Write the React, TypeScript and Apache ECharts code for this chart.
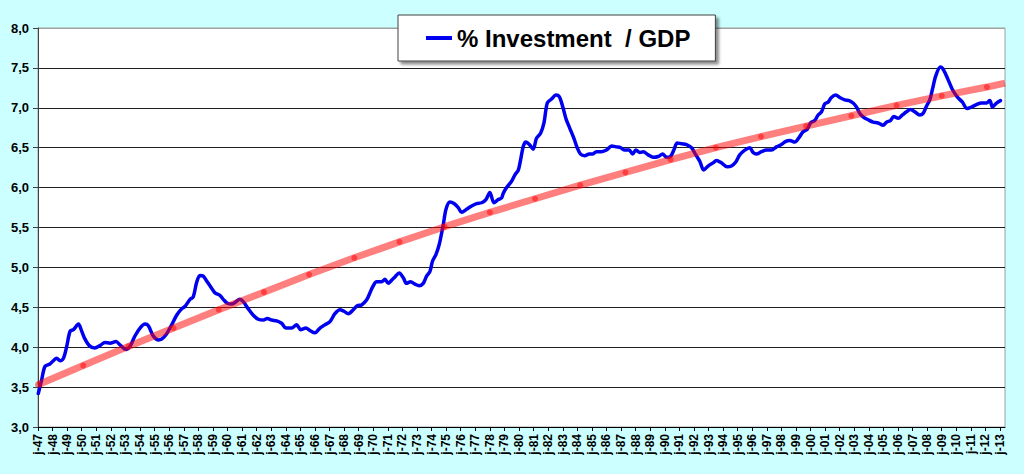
import React, { useEffect, useRef } from 'react';
import * as echarts from 'echarts';

const LEGEND_NAME = '% Investment  / GDP';

// Blue series: [decimal year] and [% investment / GDP]
const investYears = [
  1947.02, 1947.25, 1947.48, 1947.82, 1948.05, 1948.28, 1948.51, 1948.74, 1948.97, 1949.2,
  1949.43, 1949.77, 1950.0, 1950.2, 1950.52, 1950.9, 1951.25, 1951.6, 1951.94, 1952.35,
  1952.62, 1953.04, 1953.31, 1953.65, 1954.0, 1954.34, 1954.57, 1954.91, 1955.26, 1955.48,
  1955.83, 1956.17, 1956.51, 1956.85, 1957.08, 1957.43, 1957.65, 1957.88, 1958.11, 1958.34,
  1958.57, 1958.91, 1959.14, 1959.48, 1959.71, 1959.99, 1960.28, 1960.51, 1960.85, 1961.08,
  1961.43, 1961.77, 1962.11, 1962.46, 1962.73, 1963.03, 1963.37, 1963.71, 1964.01, 1964.4,
  1964.74, 1965.02, 1965.38, 1965.65, 1966.0, 1966.34, 1966.68, 1967.03, 1967.37, 1967.71,
  1967.99, 1968.29, 1968.63, 1968.9, 1969.2, 1969.54, 1969.77, 1970.0, 1970.23, 1970.57,
  1970.8, 1971.03, 1971.26, 1971.49, 1971.78, 1972.06, 1972.28, 1972.56, 1972.86, 1973.15,
  1973.43, 1973.66, 1973.89, 1974.07, 1974.3, 1974.53, 1974.69, 1974.81, 1974.99, 1975.26,
  1975.54, 1975.83, 1976.06, 1976.41, 1976.75, 1977.09, 1977.43, 1977.73, 1978.0, 1978.28,
  1978.57, 1978.8, 1978.92, 1979.15, 1979.49, 1979.72, 1979.95, 1980.11, 1980.3, 1980.47,
  1980.75, 1980.97, 1981.2, 1981.48, 1981.71, 1981.94, 1982.23, 1982.53, 1982.76, 1982.99,
  1983.21, 1983.49, 1983.76, 1983.99, 1984.22, 1984.51, 1984.81, 1985.04, 1985.31, 1985.66,
  1986.0, 1986.35, 1986.69, 1986.96, 1987.26, 1987.56, 1987.79, 1988.02, 1988.29, 1988.52,
  1988.86, 1989.21, 1989.55, 1989.85, 1990.12, 1990.39, 1990.62, 1990.85, 1991.15, 1991.49,
  1991.83, 1992.13, 1992.4, 1992.67, 1992.97, 1993.31, 1993.54, 1993.88, 1994.27, 1994.57,
  1994.87, 1995.14, 1995.49, 1995.83, 1996.06, 1996.29, 1996.63, 1996.98, 1997.32, 1997.66,
  1998.01, 1998.3, 1998.58, 1998.92, 1999.22, 1999.49, 1999.77, 2000.0, 2000.29, 2000.52,
  2000.75, 2000.98, 2001.2, 2001.43, 2001.73, 2002.0, 2002.35, 2002.65, 2002.92, 2003.15,
  2003.38, 2003.65, 2003.95, 2004.29, 2004.63, 2004.98, 2005.21, 2005.48, 2005.71, 2006.01,
  2006.3, 2006.58, 2006.85, 2007.15, 2007.49, 2007.72, 2007.95, 2008.18, 2008.36, 2008.59,
  2008.91, 2009.14, 2009.44, 2009.73, 2010.05, 2010.42, 2010.74, 2011.04, 2011.38, 2011.72,
  2012.07, 2012.3, 2012.48, 2012.76, 2013.03,
];
const investValues = [
  3.42, 3.59, 3.76, 3.79, 3.83, 3.86, 3.83, 3.86, 4.01, 4.2,
  4.22, 4.29, 4.2, 4.11, 4.02, 3.99, 4.02, 4.06, 4.05, 4.07,
  4.03, 3.97, 4.01, 4.14, 4.24, 4.29, 4.27, 4.14, 4.09, 4.1,
  4.17, 4.28, 4.4, 4.48, 4.51, 4.6, 4.63, 4.81, 4.9, 4.89,
  4.83, 4.74, 4.68, 4.65, 4.6, 4.55, 4.54, 4.56, 4.6, 4.57,
  4.48, 4.4, 4.35, 4.34, 4.36, 4.34, 4.33, 4.3, 4.24, 4.24,
  4.28, 4.22, 4.24, 4.21, 4.18, 4.24, 4.28, 4.32, 4.42, 4.47,
  4.45, 4.42, 4.47, 4.52, 4.53, 4.59, 4.68, 4.77, 4.82, 4.82,
  4.85, 4.8, 4.84, 4.88, 4.93, 4.87, 4.8, 4.82, 4.79, 4.77,
  4.8, 4.89, 4.95, 5.08, 5.16, 5.29, 5.43, 5.54, 5.73, 5.82,
  5.8, 5.75, 5.69, 5.73, 5.77, 5.8, 5.81, 5.85, 5.94, 5.81,
  5.85, 5.87, 5.93, 6.0, 6.08, 6.16, 6.22, 6.35, 6.52, 6.57,
  6.53, 6.48, 6.62, 6.68, 6.81, 7.06, 7.11, 7.16, 7.14, 7.02,
  6.87, 6.74, 6.62, 6.5, 6.42, 6.4, 6.42, 6.42, 6.45, 6.45,
  6.47, 6.52, 6.51, 6.5, 6.47, 6.47, 6.42, 6.47, 6.44, 6.45,
  6.41, 6.38, 6.39, 6.42, 6.38, 6.39, 6.47, 6.56, 6.55, 6.54,
  6.5, 6.41, 6.33, 6.22, 6.27, 6.31, 6.34, 6.31, 6.26, 6.27,
  6.32, 6.41, 6.47, 6.5, 6.44, 6.42, 6.45, 6.47, 6.47, 6.51,
  6.54, 6.58, 6.59, 6.57, 6.63, 6.7, 6.73, 6.81, 6.84, 6.91,
  6.95, 7.05, 7.07, 7.13, 7.16, 7.13, 7.1, 7.09, 7.06, 7.01,
  6.93, 6.88, 6.85, 6.82, 6.81, 6.78, 6.82, 6.84, 6.89, 6.87,
  6.91, 6.95, 6.98, 6.95, 6.91, 6.93, 7.02, 7.1, 7.23, 7.4,
  7.51, 7.47, 7.35, 7.23, 7.14, 7.07, 6.99, 7.01, 7.04, 7.06,
  7.06, 7.09, 7.01, 7.06, 7.09,
];

// Red trend line, read at its joints
const trendYears = [
  1947.0, 1950.1, 1953.2, 1956.3, 1959.4, 1962.5, 1965.6, 1968.7, 1971.8, 1974.9,
  1978.0, 1981.1, 1984.2, 1987.3, 1990.4, 1993.5, 1996.6, 1999.7, 2002.8, 2005.9,
  2009.0, 2012.1, 2013.34,
];
const trendValues = [
  3.53, 3.77, 4.01, 4.24, 4.47, 4.69, 4.91, 5.12, 5.32, 5.51,
  5.69, 5.86, 6.03, 6.19, 6.35, 6.5, 6.64, 6.77, 6.9, 7.03,
  7.15, 7.26, 7.31,
];

const X_MIN = 1947;
const X_MAX = 2013.34;
const Y_MIN = 3;
const Y_MAX = 8;
const Y_STEP = 0.5;

const FONT = "'Liberation Sans', Arial, sans-serif";

export default function App() {
  const ref = useRef<HTMLDivElement>(null);

  useEffect(() => {
    document.body.style.margin = '0';
    if (!ref.current) return;
    const chart = echarts.init(ref.current, undefined, { renderer: 'svg' });

    const investData = investYears.map((x, i) => [x, investValues[i]]);
    const trendData = trendYears.map((x, i) =>
      i === trendYears.length - 1
        ? { value: [x, trendValues[i]], symbol: 'none' }
        : { value: [x, trendValues[i]] }
    );
    const nLines = Math.round((Y_MAX - Y_MIN) / Y_STEP) + 1;
    const splitColors = Array.from({ length: nLines }, (_, i) =>
      i === nLines - 1 ? '#a0a0a0' : '#1e1e1e'
    );

    chart.setOption({
      animation: false,
      backgroundColor: '#ccffff',
      textStyle: { fontFamily: FONT },
      grid: {
        left: 38,
        top: 28,
        right: 19,
        bottom: 47,
        show: true,
        backgroundColor: '#ffffff',
        borderColor: '#a0a0a0',
        borderWidth: 1,
      },
      legend: {
        left: 398,
        top: 15,
        data: [{ name: LEGEND_NAME, icon: 'rect' }],
        itemWidth: 26,
        itemHeight: 4,
        backgroundColor: '#ffffff',
        borderColor: '#404040',
        borderWidth: 1,
        padding: [11, 25, 11, 28],
        shadowColor: 'rgba(0,0,0,0.45)',
        shadowBlur: 3,
        shadowOffsetX: 3,
        shadowOffsetY: 3,
        selectedMode: false,
        textStyle: {
          fontSize: 24,
          fontWeight: 'bold',
          color: '#000',
          fontFamily: FONT,
        },
      },
      xAxis: {
        type: 'value',
        min: X_MIN,
        max: X_MAX,
        interval: 1,
        axisLine: { show: true, lineStyle: { color: '#000', width: 1 } },
        axisTick: { show: true, length: 4, lineStyle: { color: '#000' } },
        splitLine: { show: false },
        axisLabel: {
          rotate: 90,
          margin: 7,
          fontSize: 12,
          fontWeight: 'bold',
          color: '#000',
          fontFamily: FONT,
          showMaxLabel: false,
          formatter: (v: number) =>
            Math.abs(v - Math.round(v)) < 1e-6
              ? 'j-' + String(Math.round(v) % 100).padStart(2, '0')
              : '',
        },
      },
      yAxis: {
        type: 'value',
        min: Y_MIN,
        max: Y_MAX,
        interval: Y_STEP,
        axisLine: { show: true, lineStyle: { color: '#404040', width: 1 } },
        axisTick: { show: true, length: 5, lineStyle: { color: '#404040' } },
        splitLine: { show: true, lineStyle: { color: splitColors, width: 1 } },
        axisLabel: {
          margin: 9,
          fontSize: 13,
          fontWeight: 'bold',
          color: '#000',
          fontFamily: FONT,
          formatter: (v: number) => v.toFixed(1).replace('.', ','),
        },
      },
      series: [
        {
          name: LEGEND_NAME,
          type: 'line',
          data: investData,
          smooth: 0.3,
          showSymbol: false,
          symbol: 'none',
          color: '#0000f0',
          lineStyle: { color: '#0000f0', width: 3.5, cap: 'round', join: 'round' },
          itemStyle: { color: '#0000f0' },
          z: 2,
        },
        {
          name: 'trend',
          type: 'line',
          data: trendData,
          showSymbol: true,
          symbol: 'circle',
          symbolSize: 6,
          color: 'rgba(255,0,0,0.5)',
          itemStyle: { color: 'rgba(255,0,0,0.5)' },
          lineStyle: { color: 'rgba(255,0,0,0.5)', width: 7 },
          z: 3,
          silent: true,
        },
      ],
    });

    return () => {
      chart.dispose();
    };
  }, []);

  return <div ref={ref} style={{ width: 1024, height: 474 }} />;
}
